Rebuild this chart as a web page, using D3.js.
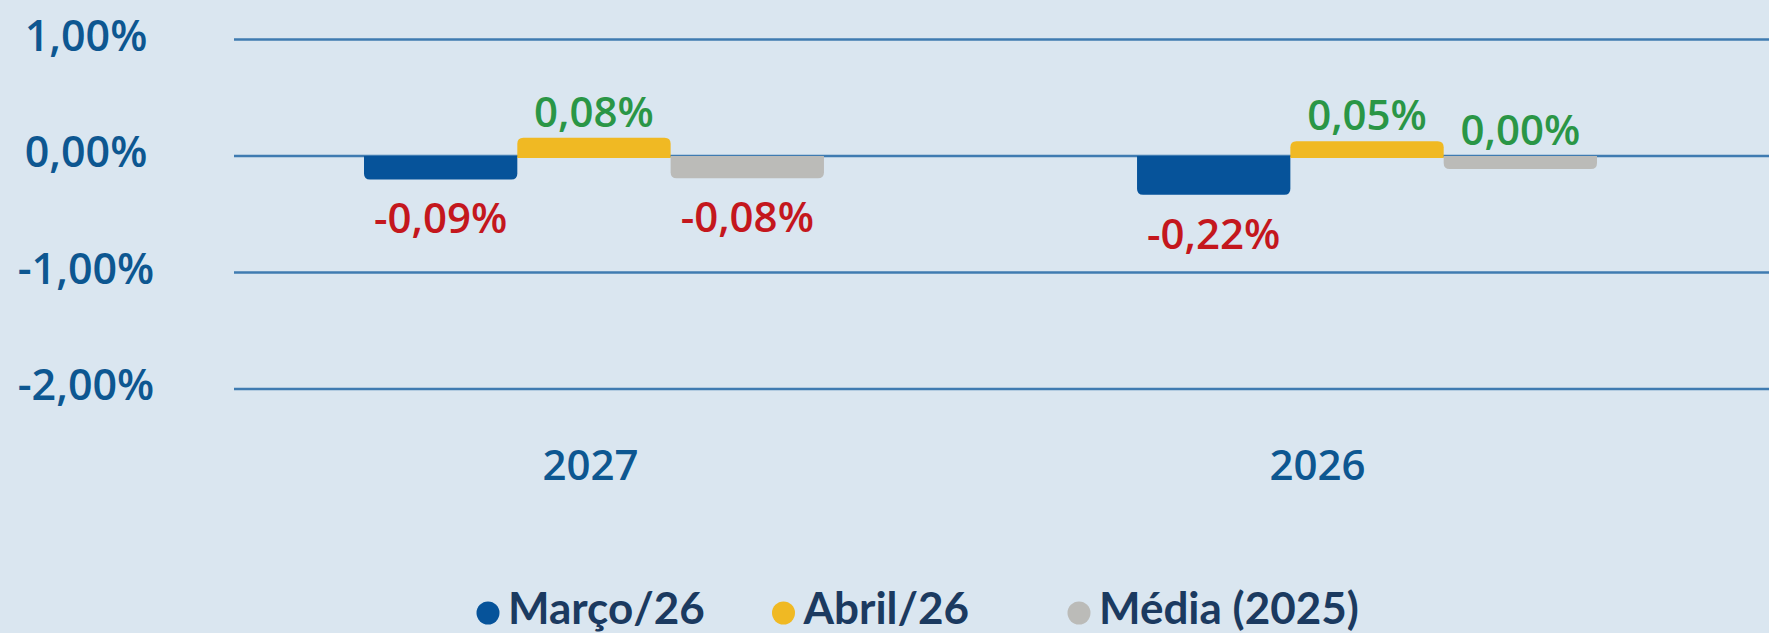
<!DOCTYPE html>
<html>
<head>
<meta charset="utf-8">
<script src="https://cdn.jsdelivr.net/npm/d3@7"></script>
<style>
  html, body { margin: 0; padding: 0; background: #dae6f0; }
  svg { display: block; }
  text { font-family: "Open Sans", Lato, sans-serif; font-weight: 600; }
</style>
</head>
<body>
<svg width="1769" height="633"></svg>
<script>
// categorias (anos) e séries
const categories = ["2027", "2026"];
const seriesNames = ["Março/26", "Abril/26", "Média (2025)"];
const marco26 = [-0.09, -0.22];
const abril26 = [0.08, 0.05];
const media2025 = [-0.08, 0.00];
const yTicks = [1, 0, -1, -2];

const seriesColors = ["#06539a", "#f0b923", "#bbbbb8"];

const fmt = v => (v < 0 ? "-" : "") + Math.abs(v).toFixed(2).replace(".", ",") + "%";

let svg = d3.select("svg");

// dados em formato longo
let rows = [];
categories.forEach((c, i) => {
    rows.push({ cat: c, serie: seriesNames[0], value: marco26[i] });
    rows.push({ cat: c, serie: seriesNames[1], value: abril26[i] });
    rows.push({ cat: c, serie: seriesNames[2], value: media2025[i] });
});

// escalas
let y = d3.scaleLinear().domain([-2, 1]).range([389, 39.5]);

let x0 = d3.scaleBand()
    .domain(categories)
    .range([364, 1597])
    .paddingInner(0.405)
    .paddingOuter(0);

let x1 = d3.scaleBand()
    .domain(seriesNames)
    .range([0, x0.bandwidth()])
    .padding(0);

let color = d3.scaleOrdinal().domain(seriesNames).range(seriesColors);

// rótulos dos anos ficam um pouco deslocados no original
let xLabel = d3.scalePoint().domain(categories).range([590, 1317]);

// linhas de grade
svg.append("g")
    .selectAll("line")
    .data(yTicks)
    .enter()
    .append("line")
    .attr("x1", 234)
    .attr("x2", 1769)
    .attr("y1", d => y(d))
    .attr("y2", d => y(d))
    .attr("stroke", "#3f7bb1")
    .attr("stroke-width", 2.6);

// rótulos do eixo Y
svg.append("g")
    .selectAll("text")
    .data(yTicks)
    .enter()
    .append("text")
    .attr("x", 86)
    .attr("y", d => y(d) - 4)
    .attr("dy", "0.36em")
    .attr("text-anchor", "middle")
    .attr("font-size", 43)
    .attr("fill", "#0d5791")
    .text(d => fmt(d));

// barras (espessura mínima para que os valores pequenos fiquem visíveis)
const padPos = 9, padNeg = 13, r = 6;

function barGeom(d) {
    let top, bottom;
    if (d.value > 0) {
        top = y(d.value) - padPos;
        bottom = y(0) + 2;
    } else {
        top = y(0);
        bottom = y(d.value) + padNeg;
    }
    return { x: x0(d.cat) + x1(d.serie), w: x1.bandwidth(), top: top, bottom: bottom };
}

function barPath(d) {
    const g = barGeom(d);
    const xl = g.x, xr = g.x + g.w, t = g.top, b = g.bottom;
    const rr = Math.min(r, (b - t) / 2);
    if (d.value > 0) {
        return `M${xl},${b} L${xl},${t + rr} Q${xl},${t} ${xl + rr},${t} L${xr - rr},${t} Q${xr},${t} ${xr},${t + rr} L${xr},${b} Z`;
    }
    return `M${xl},${t} L${xr},${t} L${xr},${b - rr} Q${xr},${b} ${xr - rr},${b} L${xl + rr},${b} Q${xl},${b} ${xl},${b - rr} Z`;
}

svg.append("g")
    .selectAll("path")
    .data(rows)
    .enter()
    .append("path")
    .attr("d", barPath)
    .attr("fill", d => color(d.serie));

// valores sobre as barras
svg.append("g")
    .selectAll("text")
    .data(rows)
    .enter()
    .append("text")
    .attr("x", d => x0(d.cat) + x1(d.serie) + x1.bandwidth() / 2)
    .attr("y", d => {
        const g = barGeom(d);
        return d.value >= 0 ? g.top - 11 : g.bottom + 54;
    })
    .attr("text-anchor", "middle")
    .attr("font-size", 42)
    .attr("fill", d => d.value >= 0 ? "#2a9646" : "#c4171d")
    .text(d => fmt(d.value));

// eixo X (anos)
let axisX = d3.axisBottom(xLabel).tickSize(0).tickPadding(0);
let gx = svg.append("g")
    .attr("transform", "translate(0, 480)")
    .call(axisX);
gx.select(".domain").remove();
gx.selectAll("text")
    .attr("dy", 0)
    .attr("font-size", 42)
    .style("font-family", "'Open Sans', sans-serif")
    .style("font-weight", 600)
    .attr("fill", "#0d5791");

// legenda
let legend = svg.append("g");
let leg = legend.selectAll("g")
    .data(seriesNames)
    .enter()
    .append("g")
    .attr("transform", (d, i) => `translate(${488 + i * 295.5}, 613)`);

leg.append("circle")
    .attr("r", 11.5)
    .attr("fill", d => color(d));

leg.append("text")
    .attr("x", 20)
    .attr("y", 11)
    .style("font-family", "Lato, sans-serif")
    .style("font-weight", 700)
    .attr("font-size", 44)
    .attr("fill", "#1b3a60")
    .text(d => d);
</script>
</body>
</html>
